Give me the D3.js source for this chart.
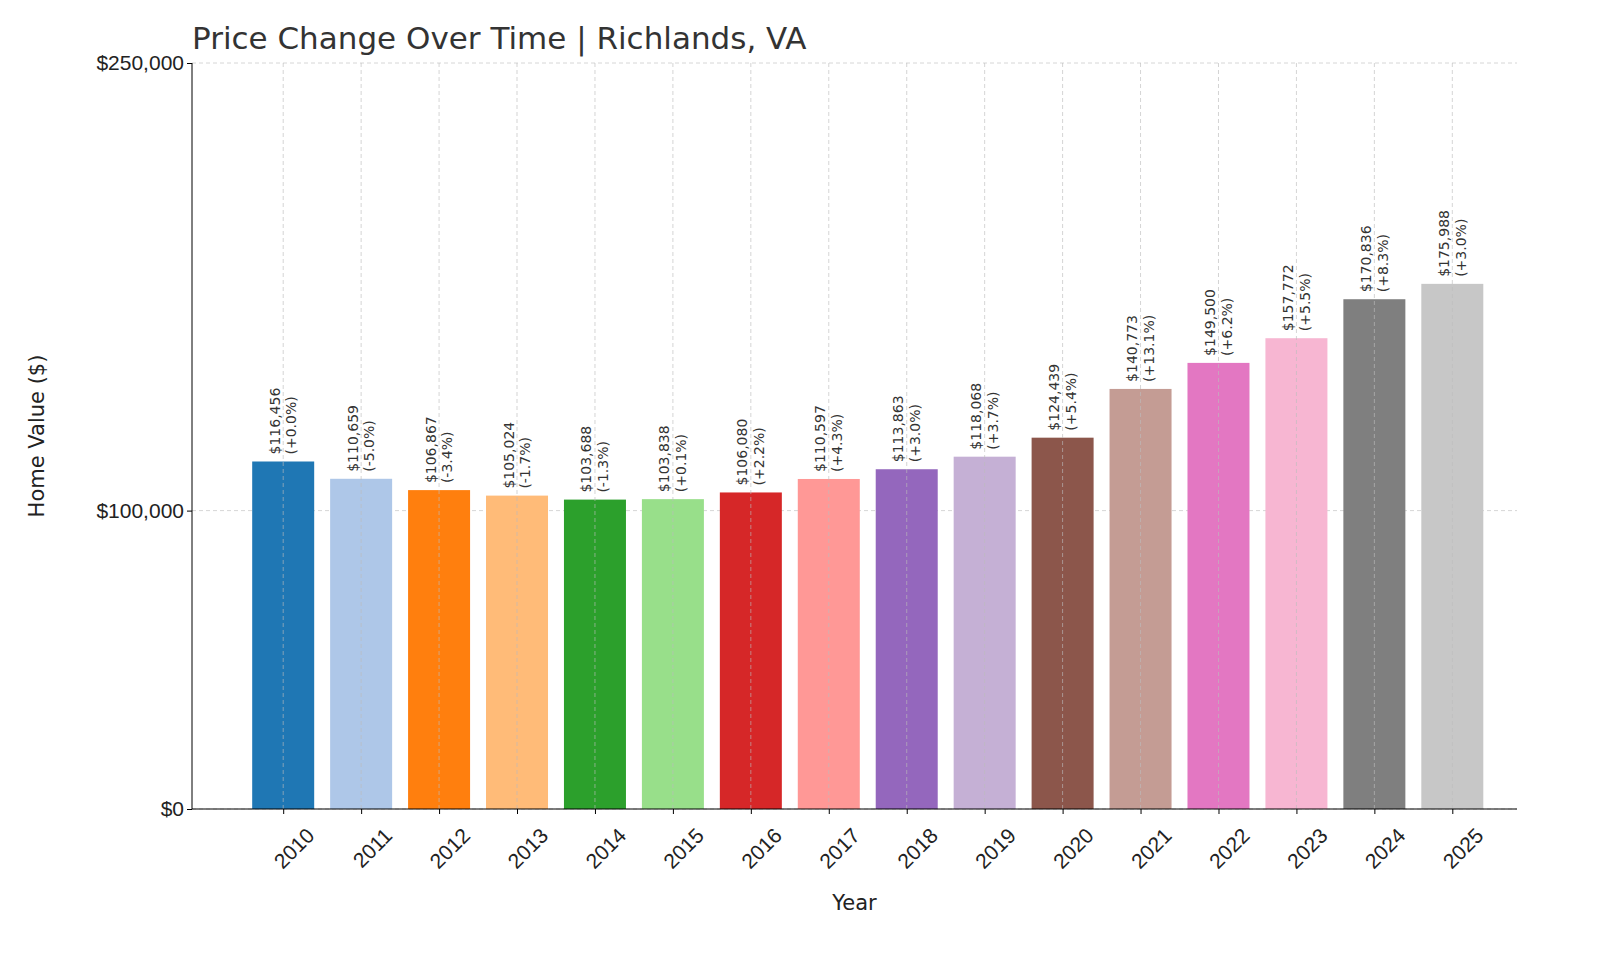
<!DOCTYPE html>
<html><head><meta charset="utf-8">
<script src="https://cdn.jsdelivr.net/npm/d3@7"></script>
<style>body{margin:0;background:#fff;font-family:"DejaVu Sans",sans-serif;}</style>
</head><body><svg id="c" width="1600" height="960"></svg>
<script>
const years=["2010","2011","2012","2013","2014","2015","2016","2017","2018","2019","2020","2021","2022","2023","2024","2025"];
const values=[116456,110659,106867,105024,103688,103838,106080,110597,113863,118068,124439,140773,149500,157772,170836,175988];
const pcts=["+0.0%","-5.0%","-3.4%","-1.7%","-1.3%","+0.1%","+2.2%","+4.3%","+3.0%","+3.7%","+5.4%","+13.1%","+6.2%","+5.5%","+8.3%","+3.0%"];
const yTicks=[0,100000,250000];
const colors=["#1f77b4","#aec7e8","#ff7f0e","#ffbb78","#2ca02c","#98df8a","#d62728","#ff9896","#9467bd","#c5b0d5","#8c564b","#c49c94","#e377c2","#f7b6d2","#7f7f7f","#c7c7c7"];
const svg=d3.select("#c");
const L=192,R=1517,T=63,B=809;
const x=d3.scaleLinear().domain([-1.17,15.83]).range([L,R]);
const y=d3.scaleLinear().domain([0,250000]).range([B,T]);
const bw=62;
const g=svg.append("g");
g.selectAll(".hg").data(yTicks).join("line").attr("x1",L).attr("x2",R).attr("y1",d=>y(d)).attr("y2",d=>y(d))
 .attr("stroke","#ccc").attr("stroke-dasharray","4,3").attr("stroke-width",0.8);
g.selectAll(".bar").data(values).join("rect").attr("x",(d,i)=>x(i)-bw/2).attr("width",bw)
 .attr("y",d=>y(d)).attr("height",d=>B-y(d)).attr("fill",(d,i)=>colors[i]);
g.selectAll(".vg").data(years).join("line").attr("x1",(d,i)=>x(i)).attr("x2",(d,i)=>x(i)).attr("y1",T).attr("y2",B)
 .attr("stroke","#bbb").attr("stroke-opacity",0.8).attr("stroke-dasharray","4,3").attr("stroke-width",0.8);
values.forEach((v,i)=>{
  const t=g.append("text").attr("transform",`translate(${x(i)},${y(v)-7}) rotate(-90)`)
   .attr("font-size",14).attr("fill","#333").attr("text-anchor","start");
  t.append("tspan").attr("x",0).attr("dy","-0.25em").text("$"+d3.format(",")(v));
  t.append("tspan").attr("x",0).attr("dy","1.2em").text("("+pcts[i]+")");
});
const xa=svg.append("g").attr("transform",`translate(0,${B})`).call(d3.axisBottom(x).tickValues(d3.range(16)).tickFormat(i=>years[i]).tickSize(5));
xa.select(".domain").remove();
xa.selectAll("text").attr("font-size",21).attr("fill","#222").attr("text-anchor","end")
 .attr("transform","translate(10,12) rotate(-45)").attr("dy","0.9em").attr("dx","0.2em");
const ya=svg.append("g").attr("transform",`translate(${L},0)`).call(d3.axisLeft(y).tickValues(yTicks).tickFormat(d=>"$"+d3.format(",")(d)).tickSize(5));
ya.select(".domain").remove();
ya.selectAll("text").attr("font-size",21).attr("fill","#222");
svg.append("line").attr("x1",L).attr("x2",L).attr("y1",T).attr("y2",B).attr("stroke","#000");
svg.append("line").attr("x1",L).attr("x2",R).attr("y1",B).attr("y2",B).attr("stroke","#000");
svg.append("text").attr("x",L).attr("y",49).attr("font-size",31).attr("fill","#333").text("Price Change Over Time | Richlands, VA");
svg.append("text").attr("x",(L+R)/2).attr("y",910).attr("text-anchor","middle").attr("font-size",21).attr("fill","#222").text("Year");
svg.append("text").attr("transform",`translate(44,${(T+B)/2}) rotate(-90)`).attr("text-anchor","middle").attr("font-size",21).attr("fill","#222").text("Home Value ($)");
</script></body></html>
